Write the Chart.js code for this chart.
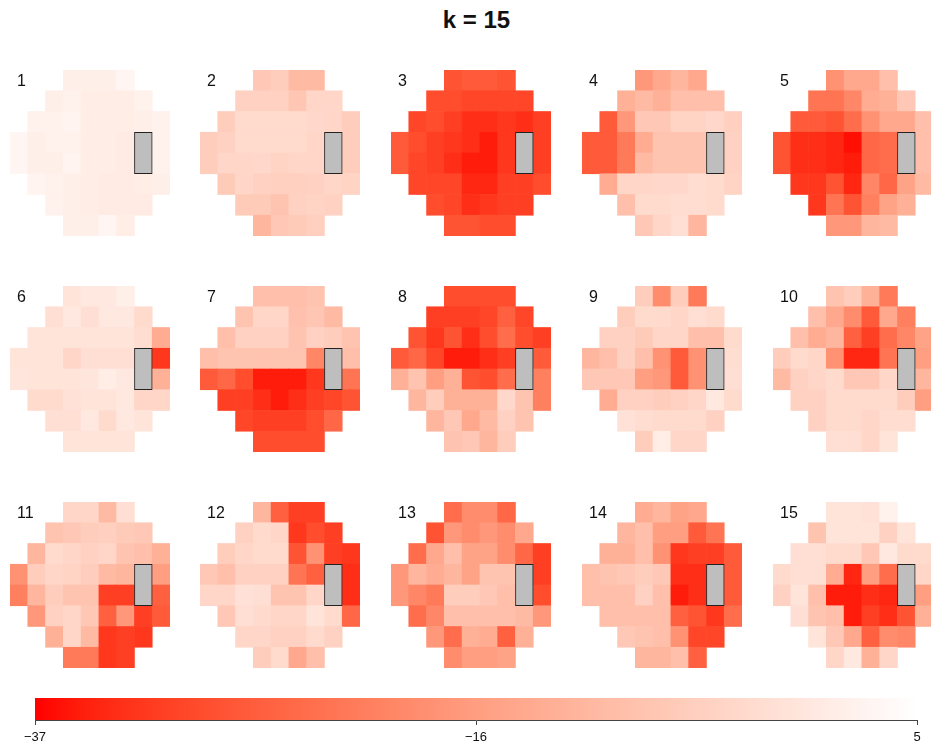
<!DOCTYPE html>
<html>
<head>
<meta charset="utf-8">
<title>k = 15</title>
<script src="https://cdn.jsdelivr.net/npm/chart.js@4"></script>
<style>
    html, body { margin: 0; padding: 0; background: #fff; overflow: hidden; width: 931px; height: 742px; }
    body { position: relative; font-family: "Liberation Sans", Arial, sans-serif; color: #111; }
    canvas { position: absolute; display: block; }
    #title { position: absolute; left: 0; top: 6px; width: 953px; text-align: center; font-size: 24px; line-height: 28px; font-weight: bold; }
    .panel-label { position: absolute; font-size: 16px; line-height: 18px; }
</style>
</head>
<body>
<div id="title">k = 15</div>
<script>
// value range of the colour bar
const scaleMin = -37;
const scaleMax = 5;
const scaleTicks = [-37, -16, 5];
const scaleTickLabels = ['\u221237', '\u221216', '5'];

// layout of the field: first column of each row (rows have 4,6,8,9,9,8,6,4 cells)
const rowStart = [3, 2, 1, 0, 0, 1, 2, 3];
const columns = [0, 1, 2, 3, 4, 5, 6, 7, 8];
const blindColumn = 7;
const blindRows = [3, 5];

// archetype values (null = blind spot)
const panel1 = [
    [1.5, 1.5, 1.5, 3],
    [1.5, 2, 1, 1, 1, 2],
    [2, 2, 2.5, 1, 1, 1, 1.5, 2],
    [3, 1.5, 2, 2, 1, 1, 0.5, null, 2],
    [3, 1.5, 1.5, 2.5, 1, 1, 0.5, null, 2],
    [2.5, 2, 1.5, 1, 0.5, 0.5, 1, 1.5],
    [2, 1.5, 1, 0.5, 0.5, 0.5],
    [1.5, 1.5, 3, 1]
];
const panel2 = [
    [-7, -6, -10, -10],
    [-5, -5, -5, -7.5, -4, -4],
    [-6, -3, -3, -3, -3, -3.5, -4, -6],
    [-6, -5, -3, -3, -3, -3, -4, null, -6],
    [-6, -4, -4, -3.5, -4.5, -4, -4, null, -6],
    [-6.5, -4, -5, -5.5, -5.5, -5, -4, -4.5],
    [-6.5, -6.5, -8, -5, -4.5, -5],
    [-11, -7, -6.5, -5.5]
];
const panel3 = [
    [-28, -27, -27, -28],
    [-29, -29, -30, -30, -30, -30],
    [-30, -29, -31, -33, -33, -32, -33, -31],
    [-27, -29, -31, -32, -33, -35, -32, null, -31],
    [-27, -30, -31, -33, -35, -35, -32, null, -31],
    [-30, -30, -30, -34, -34, -31, -31, -29],
    [-29, -30, -33, -32, -31, -31],
    [-28, -28, -29, -29]
];
const panel4 = [
    [-17, -14, -11, -14],
    [-12, -10, -12, -9, -9, -9],
    [-27, -17, -7, -7, -4.5, -4.5, -3.5, -5.5],
    [-27, -27, -22, -13, -8, -8, -8, null, -5],
    [-27, -27, -22, -10, -8, -8, -8, null, -5],
    [-13, -4, -4, -3.5, -3.5, -2.5, -3, -4.5],
    [-9, -3, -3, -2.5, -2.5, -3],
    [-7, -4, -2, -11]
];
const panel5 = [
    [-18, -14, -14, -9],
    [-23, -23, -20, -13, -12, -7],
    [-27, -27, -28, -24, -18, -14, -14, -9],
    [-28, -33, -33, -34, -36, -25, -24, null, -9],
    [-28, -33, -33, -34, -35, -25, -24, null, -9],
    [-32, -32, -28, -34, -20, -25, -15, -10],
    [-32, -23, -28, -21, -15, -12],
    [-17, -17, -11, -10]
];
const panel6 = [
    [-1, 0, 0, 1.5],
    [-2, 0, -2, 0, 0, -3],
    [-1, -1, -1, -1, -1, -1, -2.5, -13],
    [-1, -1, -1, -4, -2, -2, -2, null, -32],
    [-0.5, -1, -1, -1, -0.5, 1, 0, null, -12],
    [-3, -3, -1.5, -1, -1, 0, -4, -4],
    [-2, -2, 0, -3, 0, -1],
    [-1, -1, -1, -1]
];
const panel7 = [
    [-9, -9, -9, -8],
    [-8, -4, -4, -8.5, -7.5, -10],
    [-9, -5, -5, -5, -8, -5, -6, -8],
    [-9, -8, -8, -8, -8, -8, -20, null, -9],
    [-27, -25, -29, -35, -35, -35, -32, null, -23],
    [-31, -31, -33, -35, -33, -31, -30, -28],
    [-30, -31, -31, -31, -29, -25],
    [-29, -29, -29, -29]
];
const panel8 = [
    [-29, -29, -29, -29],
    [-31, -31, -31, -30, -26, -30],
    [-28, -32, -28, -33, -29, -24, -29, -31],
    [-27, -25, -30, -35, -35, -33, -31, null, -27],
    [-12, -8, -16, -12, -28, -29, -24, null, -21],
    [-11, -6, -12, -12, -12, -3.5, -8, -21],
    [-11, -7, -14, -10, -5, -8],
    [-8, -7, -11, -6]
];
const panel9 = [
    [-6, -19, -6, -22],
    [-6, -3, -3, -4, -2, -3],
    [-5, -5, -6.5, -4, -4, -9, -9, -3],
    [-11, -9, -5, -9, -18, -27, -18, null, -2.5],
    [-7, -7, -7, -16, -17, -27, -18, null, -2],
    [-13, -5, -5, -6, -5, -4, 0, -3],
    [-1.5, -2.5, -3, -3, -3, -5],
    [-6, 1, -4, -4]
];
const panel10 = [
    [-8, -6, -12, -22],
    [-9, -14, -19, -27, -14, -21],
    [-9, -13, -11, -26, -31, -24, -20, -15],
    [-6, -3, -4, -18, -34, -34, -23, null, -16],
    [-10, -5, -4, -3, -7, -7, -4, null, -11],
    [-5, -5, -3, -3, -3, -3, -6, -16],
    [-5, -3, -3, -4, -2.5, -2.5],
    [-2, -2, -4, -1]
];
const panel11 = [
    [-4, -4, -10, -2],
    [-8, -7, -6, -5.5, -6.5, -7],
    [-11, -3, -4, -5, -4, -8, -9, -12],
    [-18, -6, -4, -4.5, -6, -10, -11, null, -16],
    [-21, -11, -6, -8, -8, -31, -31, null, -26],
    [-17, -5, -4, -7, -26, -17, -31, -27],
    [-12, -4, -10, -32, -31, -32],
    [-22, -22, -32, -31]
];
const panel12 = [
    [-11, -26, -31, -31],
    [-5, -3, -4, -32, -29, -31],
    [-6, -4, -3, -3, -28, -18, -31, -32],
    [-7, -9, -5, -5, -5, -23, -26, null, -33],
    [-4, -4, -1.5, -2, -8, -8, -4, null, -33],
    [-7, -2, -3, -4, -4, -1, -3, -25],
    [-4, -4, -5, -5, -3, -5],
    [-6, -3, -14, -9]
];
const panel13 = [
    [-24, -19, -19, -25],
    [-28, -17, -19, -17, -19, -14],
    [-24, -14, -9, -15, -15, -19, -25, -31],
    [-17, -11, -13, -11, -15, -8, -8, null, -31],
    [-17, -20, -22, -6, -6, -7, -9, null, -29],
    [-24, -20, -9, -9, -9, -9, -10, -17],
    [-17, -24, -12, -13, -26, -12],
    [-19, -16, -16, -15]
];
const panel14 = [
    [-13, -11, -15, -14],
    [-11, -9, -16, -16, -27, -23],
    [-12, -12, -9, -18, -32, -31, -31, -27],
    [-9, -8, -7, -6, -7, -33, -33, null, -27],
    [-9, -9, -9, -5, -9, -35, -33, null, -27],
    [-9, -9, -9, -9, -26, -28, -32, -24],
    [-7, -8, -9, -18, -30, -30],
    [-11, -11, -9, -26]
];
const panel15 = [
    [-1, -1, -1.5, 2],
    [-8, -1, -1, -1, -5, -1],
    [-2, -2, -3, -3, -7, 0, -3, -3],
    [-3, -2, -2, -13, -34, -16, -24, null, -4],
    [-5, -1, -9, -35, -35, -33, -34, null, -16],
    [-2, -8, -9, -35, -31, -33, -28, -12],
    [-1, -7, -14, -26, -19, -20],
    [-4, 0, -12, -4]
];
const panels = [panel1, panel2, panel3, panel4, panel5, panel6, panel7, panel8, panel9, panel10, panel11, panel12, panel13, panel14, panel15];

// page positions of the grid of panels
const panelLefts = [10, 200, 391, 582, 773];
const panelTops = [70, 286, 502];
const panelWidth = 160;
const panelHeight = 166;

Chart.defaults.animation = false;
Chart.defaults.responsive = false;
Chart.defaults.plugins.legend.display = false;
Chart.defaults.plugins.tooltip.enabled = false;

// red -> white ramp, interpolated in Lab, the red half held a bit longer
function rampColor(t0) {
    const t = t0 < 0.5 ? 0.5 * Math.pow(2 * t0, 1.25) : t0;
    const L = 53.24 + (100 - 53.24) * t;
    const a = 80.09 * (1 - t);
    const b = 67.2 * (1 - t);
    const fy = (L + 16) / 116;
    const f = (v) => (v > 0.2069 ? v * v * v : (v - 16 / 116) / 7.787);
    const X = 0.95047 * f(fy + a / 500);
    const Y = f(fy);
    const Z = 1.08883 * f(fy - b / 200);
    const gamma = (c) => {
        c = Math.min(1, Math.max(0, c));
        return Math.round(255 * (c <= 0.0031308 ? 12.92 * c : 1.055 * Math.pow(c, 1 / 2.4) - 0.055));
    };
    const r = gamma(3.2406 * X - 1.5372 * Y - 0.4986 * Z);
    const g = gamma(-0.9689 * X + 1.8758 * Y + 0.0415 * Z);
    const bl = gamma(0.0557 * X - 0.204 * Y + 1.057 * Z);
    return `rgb(${r},${g},${bl})`;
}
const valueColor = (v) => rampColor((v - scaleMin) / (scaleMax - scaleMin));

function addCanvas(left, top, width, height) {
    const c = document.createElement('canvas');
    c.width = width;
    c.height = height;
    c.style.left = left + 'px';
    c.style.top = top + 'px';
    c.style.width = width + 'px';
    c.style.height = height + 'px';
    document.body.appendChild(c);
    return c;
}

function drawPanel(values, index) {
    const left = panelLefts[index % 5];
    const top = panelTops[Math.floor(index / 5)];

    const cells = [];
    const colors = [];
    values.forEach((row, r) => {
        row.forEach((v, i) => {
            if (v === null) return;
            cells.push({ x: rowStart[r] + i, y: [r, r + 1] });
            colors.push(valueColor(v));
        });
    });

    new Chart(addCanvas(left, top, panelWidth, panelHeight), {
        type: 'bar',
        data: {
            labels: columns,
            datasets: [
                {
                    data: [{ x: blindColumn, y: blindRows }],
                    backgroundColor: '#bebebe',
                    borderColor: '#222',
                    borderWidth: 1,
                    borderSkipped: false
                },
                {
                    data: cells,
                    backgroundColor: colors,
                    borderWidth: 0
                }
            ]
        },
        options: {
            grouped: false,
            barPercentage: 1,
            categoryPercentage: 1,
            scales: {
                x: { display: false },
                y: { display: false, min: 0, max: 8, reverse: true }
            }
        }
    });

    const label = document.createElement('div');
    label.className = 'panel-label';
    label.textContent = index + 1;
    label.style.left = (left + 7) + 'px';
    label.style.top = (top + 2) + 'px';
    document.body.appendChild(label);
}

panels.forEach(drawPanel);

// colour bar along the bottom
new Chart(addCanvas(0, 690, 931, 52), {
    type: 'bar',
    data: {
        labels: [''],
        datasets: [{
            data: [[scaleMin, scaleMax]],
            borderWidth: 0,
            backgroundColor: (ctx) => {
                const area = ctx.chart.chartArea;
                if (!area) return '#fff';
                const g = ctx.chart.ctx.createLinearGradient(area.left, 0, area.right, 0);
                for (let i = 0; i <= 20; i++) g.addColorStop(i / 20, rampColor(i / 20));
                return g;
            }
        }]
    },
    options: {
        indexAxis: 'y',
        barPercentage: 1,
        categoryPercentage: 1,
        layout: { padding: { left: 35, right: 14, top: 8, bottom: 0 } },
        scales: {
            x: {
                type: 'linear',
                min: scaleMin,
                max: scaleMax,
                afterBuildTicks: (axis) => { axis.ticks = scaleTicks.map((value) => ({ value })); },
                afterFit: (axis) => { axis.height = 22; },
                grid: { display: true, drawOnChartArea: false, drawTicks: true, tickLength: 5, tickColor: '#444' },
                border: { display: true, color: '#444', width: 1 },
                ticks: {
                    color: '#111',
                    padding: 5,
                    maxRotation: 0,
                    autoSkip: false,
                    font: { family: '"Liberation Sans", Arial', size: 13 },
                    callback: (value) => scaleTickLabels[scaleTicks.indexOf(value)]
                }
            },
            y: { display: false }
        }
    }
});
</script>
</body>
</html>
